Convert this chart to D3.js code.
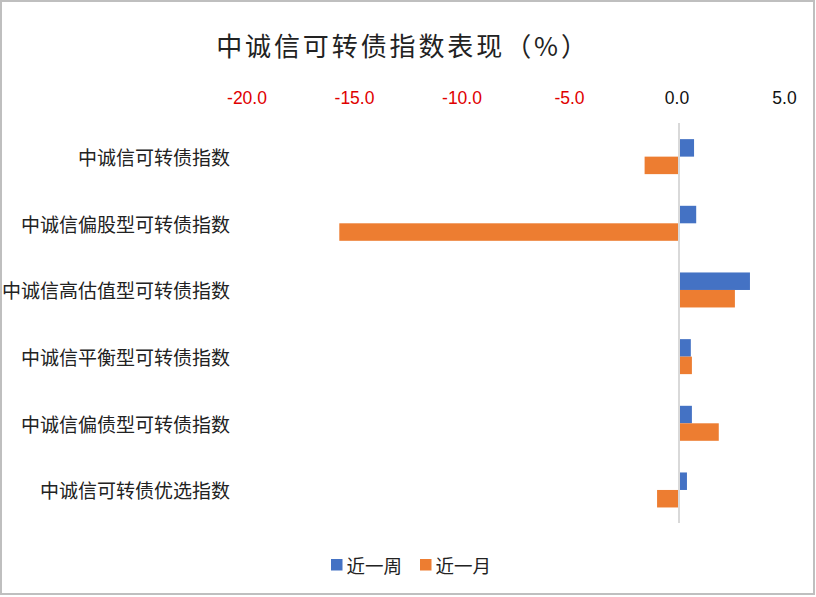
<!DOCTYPE html>
<html>
  <head>
    <meta charset="utf-8">
    <title>中诚信可转债指数表现</title>
    <style>
      body { margin: 0; padding: 0; background: #fff; }
      svg { display: block; font-family: "Noto Sans CJK SC", "Noto Sans", sans-serif; }
      .tick text { font-size: 17.5px; }
      .cat { font-size: 19px; fill: #222; }
      .legend text { font-size: 18.5px; fill: #222; }
    </style>
  </head>
  <body>
    <svg width="816" height="597"></svg>
    <script src="https://cdn.jsdelivr.net/npm/d3@7"></script>
    <script>
      // data
      var categories = ["中诚信可转债指数", "中诚信偏股型可转债指数", "中诚信高估值型可转债指数",
                        "中诚信平衡型可转债指数", "中诚信偏债型可转债指数", "中诚信可转债优选指数"];
      var seriesNames = ["近一周", "近一月"];
      var weekValues = [0.7, 0.8, 3.3, 0.55, 0.6, 0.37];
      var monthValues = [-1.6, -15.8, 2.6, 0.6, 1.85, -1.02];
      var xTicks = [-20, -15, -10, -5, 0, 5];
      var colors = ["#4472c4", "#ed7d31"];

      var svg = d3.select("svg");

      // chart frame
      svg.append("rect")
        .attr("x", 1).attr("y", 1)
        .attr("width", 813).attr("height", 593)
        .attr("fill", "#fff")
        .attr("stroke", "#bfbfbf")
        .attr("stroke-width", 2);

      svg.append("text")
        .attr("x", 403).attr("y", 44)
        .attr("text-anchor", "middle")
        .attr("dominant-baseline", "central")
        .style("font-size", "26px")
        .style("letter-spacing", "2.9px")
        .attr("fill", "#222")
        .text("中诚信可转债指数表现（%）");

      var x = d3.scaleLinear().domain([-20, 5]).range([249, 786.5]);
      var y = d3.scaleBand().domain(categories).range([123.3, 523.3]);
      var groupH = 35;
      var barH = groupH / 2;

      // top axis, labels only (plain hyphen for minus, like the original)
      var fmt = d3.format(".1f");
      var axis = svg.append("g")
        .attr("transform", "translate(-2.5,98)")
        .call(d3.axisTop(x).tickValues(xTicks)
          .tickFormat(d => fmt(d).replace("\u2212", "-"))
          .tickSize(0).tickPadding(0));
      axis.select(".domain").remove();
      axis.selectAll("text")
        .attr("dominant-baseline", "central")
        .attr("dy", null)
        .attr("fill", d => d < 0 ? "#e00000" : "#111");

      // bars
      var rows = categories.map((c, i) => ({ cat: c, vals: [weekValues[i], monthValues[i]] }));
      var g = svg.append("g");
      rows.forEach(function(r) {
        var top = y(r.cat) + (y.bandwidth() - groupH) / 2;
        g.selectAll(null)
          .data(r.vals)
          .enter()
          .append("rect")
          .attr("x", d => x(Math.min(0, d)))
          .attr("width", d => Math.abs(x(d) - x(0)))
          .attr("y", (d, j) => top + j * barH)
          .attr("height", barH)
          .attr("fill", (d, j) => colors[j]);
      });

      // zero line
      svg.append("line")
        .attr("x1", x(0)).attr("x2", x(0))
        .attr("y1", 123).attr("y2", 523)
        .attr("stroke", "#d9d9d9")
        .attr("stroke-width", 2);

      // category labels
      svg.append("g")
        .selectAll("text")
        .data(categories)
        .enter()
        .append("text")
        .attr("class", "cat")
        .attr("x", 230)
        .attr("y", d => y(d) + y.bandwidth() / 2)
        .attr("text-anchor", "end")
        .attr("dominant-baseline", "central")
        .text(d => d);

      // legend
      var legend = svg.append("g").attr("class", "legend");
      var legendX = [331, 420];
      seriesNames.forEach(function(name, i) {
        legend.append("rect")
          .attr("x", legendX[i]).attr("y", 559)
          .attr("width", 11.5).attr("height", 11.5)
          .attr("fill", colors[i]);
        legend.append("text")
          .attr("x", legendX[i] + 15.5).attr("y", 565)
          .attr("dominant-baseline", "central")
          .text(name);
      });
    </script>
  </body>
</html>
